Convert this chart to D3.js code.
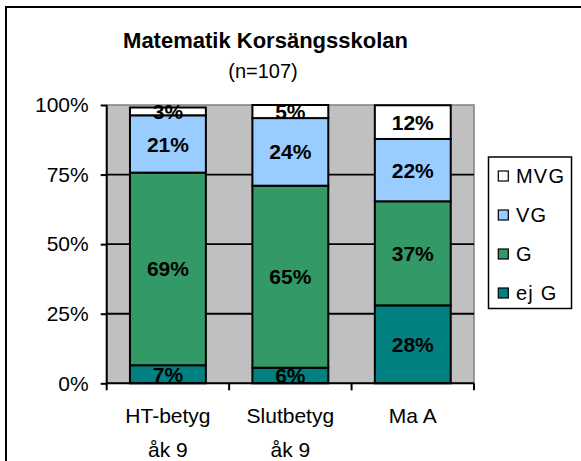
<!DOCTYPE html>
<html>
<head>
<meta charset="utf-8">
<script src="https://cdn.jsdelivr.net/npm/d3@7"></script>
<style>
  html, body { margin: 0; padding: 0; background: #fff; }
  svg { display: block; }
  text { font-family: Arial, "Liberation Sans", sans-serif; }
</style>
</head>
<body>
<div id="chart"></div>
<script>
// ---- data ----
const categories = ["HT-betyg\nåk 9", "Slutbetyg\nåk 9", "Ma A"];
const seriesNames = ["ej G", "G", "VG", "MVG"];
const ejG = [6.5, 5.6, 28.0];
const G   = [69.2, 65.4, 37.4];
const VG  = [20.6, 24.3, 22.4];
const MVG = [2.8, 4.7, 12.1];
const seriesLabels = {
  "ej G": ["7%", "6%", "28%"],
  "G":    ["69%", "65%", "37%"],
  "VG":   ["21%", "24%", "22%"],
  "MVG":  ["3%", "5%", "12%"]
};
const yTicks = [0, 25, 50, 75, 100];
const yTickLabels = ["0%", "25%", "50%", "75%", "100%"];
const colors = { "ej G": "#008080", "G": "#339966", "VG": "#99CCFF", "MVG": "#FFFFFF" };
const title = "Matematik Korsängsskolan";
const subtitle = "(n=107)";

// ---- layout ----
const W = 581, H = 461;
const FONT = "Arial, 'Liberation Sans', sans-serif";
const svg = d3.select("#chart").append("svg").attr("width", W).attr("height", H);

// outer chart frame (extends beyond viewport on right/bottom)
svg.append("rect").attr("x", 6).attr("y", 7).attr("width", 620).attr("height", 500)
  .attr("fill", "#fff").attr("stroke", "#000").attr("stroke-width", 2);

const plot = { left: 106.7, right: 474, top: 105, bottom: 383.3 };

const x = d3.scaleBand().domain(categories).range([plot.left, plot.right])
  .paddingInner(0.38).paddingOuter(0.19);
const y = d3.scaleLinear().domain([0, 100]).range([plot.bottom, plot.top]);

// plot background
svg.append("rect").attr("x", plot.left).attr("y", plot.top)
  .attr("width", plot.right - plot.left).attr("height", plot.bottom - plot.top)
  .attr("fill", "#C0C0C0").attr("stroke", "#808080").attr("stroke-width", 1.5);

// gridlines
svg.append("g").selectAll("line").data(yTicks.filter(t => t > 0 && t < 100)).join("line")
  .attr("x1", plot.left).attr("x2", plot.right)
  .attr("y1", d => y(d)).attr("y2", d => y(d))
  .attr("stroke", "#000").attr("stroke-width", 1.8);

// stack
const rows = categories.map((c, i) => ({ cat: c, "ej G": ejG[i], "G": G[i], "VG": VG[i], "MVG": MVG[i] }));
const stack = d3.stack().keys(seriesNames)(rows);

const layers = svg.append("g").selectAll("g").data(stack).join("g")
  .attr("fill", d => colors[d.key]);
layers.selectAll("rect").data(d => d).join("rect")
  .attr("x", d => x(d.data.cat))
  .attr("width", x.bandwidth())
  .attr("y", d => y(d[1]))
  .attr("height", d => y(d[0]) - y(d[1]))
  .attr("stroke", "#000").attr("stroke-width", 2);

// labels
const lbl = svg.append("g");
stack.forEach(layer => {
  layer.forEach((d, i) => {
    lbl.append("text")
      .attr("x", x(d.data.cat) + x.bandwidth() / 2)
      .attr("y", (y(d[0]) + y(d[1])) / 2)
      .attr("dy", "0.36em")
      .attr("text-anchor", "middle")
      .attr("font-size", 21).attr("font-weight", "bold").attr("fill", "#000")
      .text(seriesLabels[layer.key][i]);
  });
});

// y axis
const yAxis = d3.axisLeft(y).tickValues(yTicks).tickFormat((d, i) => yTickLabels[i])
  .tickSize(6).tickPadding(12);
const gy = svg.append("g").attr("transform", `translate(${plot.left},0)`).call(yAxis);
gy.select(".domain").attr("stroke", "#000").attr("stroke-width", 2).attr("d", `M0,${plot.top}V${plot.bottom}`);
gy.selectAll(".tick line").attr("stroke", "#000").attr("stroke-width", 2);
gy.selectAll(".tick text").attr("font-size", 21).attr("fill", "#000").attr("font-family", FONT);

// x axis
const gx = svg.append("g").attr("transform", `translate(0,${plot.bottom})`);
gx.append("line").attr("x1", plot.left).attr("x2", plot.right).attr("stroke", "#000").attr("stroke-width", 2);
const bounds = d3.range(categories.length + 1).map(i => plot.left + i * (plot.right - plot.left) / categories.length);
gx.selectAll("line.tk").data(bounds).join("line").attr("class", "tk")
  .attr("x1", d => d).attr("x2", d => d).attr("y1", 0).attr("y2", 7)
  .attr("stroke", "#000").attr("stroke-width", 2);
categories.forEach(c => {
  const lines = c.split("\n");
  const t = gx.append("text").attr("text-anchor", "middle").attr("font-size", 21).attr("fill", "#000");
  lines.forEach((ln, k) => {
    t.append("tspan").attr("x", x(c) + x.bandwidth() / 2).attr("y", 40 + k * 34).text(ln);
  });
});

// title
svg.append("text").attr("x", 265.5).attr("y", 47.5).attr("text-anchor", "middle")
  .attr("font-size", 22).attr("font-weight", "bold").attr("fill", "#000").text(title);
svg.append("text").attr("x", 263).attr("y", 77.5).attr("text-anchor", "middle")
  .attr("font-size", 20).attr("fill", "#000").text(subtitle);

// legend
const lg = svg.append("g");
lg.append("rect").attr("x", 488.5).attr("y", 157).attr("width", 83).attr("height", 151.5)
  .attr("fill", "#fff").attr("stroke", "#000").attr("stroke-width", 1.5);
const legendOrder = ["MVG", "VG", "G", "ej G"];
legendOrder.forEach((k, i) => {
  const cy = 176 + i * 39;
  lg.append("rect").attr("x", 498.3).attr("y", cy - 5).attr("width", 10).attr("height", 10)
    .attr("fill", colors[k]).attr("stroke", "#000").attr("stroke-width", 1.2);
  lg.append("text").attr("x", 516).attr("y", cy).attr("dy", "0.36em")
    .attr("font-size", 20).attr("letter-spacing", 1.2).attr("fill", "#000").text(k);
});
</script>
</body>
</html>
